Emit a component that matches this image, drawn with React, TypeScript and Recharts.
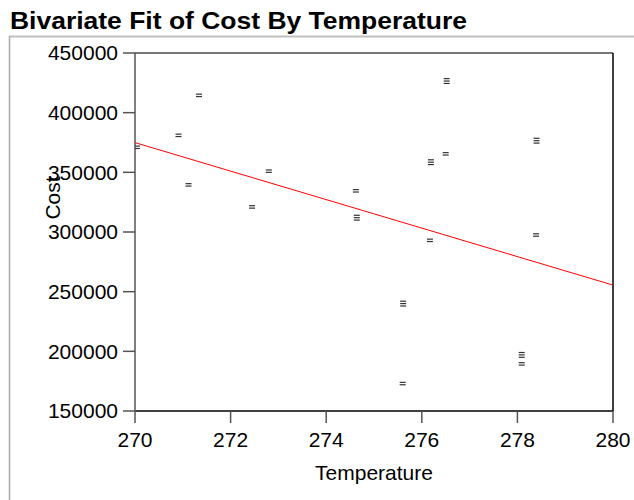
import React from 'react';
import { ScatterChart, Scatter, XAxis, YAxis, ReferenceLine } from 'recharts';

const temperature = [270.04, 270.91, 271.34, 271.12, 272.8, 272.45, 274.62, 274.64, 275.61, 275.6, 276.19, 276.17, 276.52, 276.5, 278.4, 278.39, 278.09, 278.09];
const cost = [371000, 381000, 414500, 339500, 351000, 321000, 334500, 312000, 240000, 173000, 358500, 293000, 426500, 365500, 376500, 297500, 197000, 189500];
// glyph drawn for each observation: 2 = "=", 3 = "≡" (overlapping markers)
const markerGlyph = [2, 2, 2, 2, 2, 2, 2, 3, 3, 2, 3, 2, 3, 2, 3, 2, 3, 2];

// Linear fit end points
const fitTemperature = [270, 280];
const fitCost = [374900, 255500];

const xTicks = [270, 272, 274, 276, 278, 280];
const yTicks = [150000, 200000, 250000, 300000, 350000, 400000, 450000];

const points = temperature.map((t, i) => ({ t, c: cost[i], g: markerGlyph[i] }));
const fitData = fitTemperature.map((t, i) => ({ t, c: fitCost[i] }));

const FONT = '"Liberation Sans", Arial, Helvetica, sans-serif';

const Marker = (props: any) => {
  const { cx, cy, payload } = props;
  if (cx == null || cy == null) return <g />;
  const n = payload.g;
  const gap = 2.4;
  const start = cy - ((n - 1) * gap) / 2;
  return (
    <g>
      {Array.from({ length: n }, (_, i) => (
        <line
          key={i}
          x1={cx - 3}
          x2={cx + 3}
          y1={start + i * gap}
          y2={start + i * gap}
          stroke="#333"
          strokeWidth={1.2}
        />
      ))}
    </g>
  );
};

const CostLabel = (props: any) => {
  const vb = props.viewBox || {};
  const x = (vb.x ?? 35) + 24.5;
  const y = 198;
  return (
    <text
      x={x}
      y={y}
      transform={`rotate(-90, ${x}, ${y})`}
      textAnchor="middle"
      fontSize={21}
      fontFamily={FONT}
      fill="#000"
    >
      Cost
    </text>
  );
};

const TempLabel = (props: any) => {
  const vb = props.viewBox || {};
  const x = (vb.x ?? 135) + (vb.width ?? 478) / 2;
  const y = 480;
  return (
    <text x={x} y={y} textAnchor="middle" fontSize={21} fontFamily={FONT} fill="#000">
      Temperature
    </text>
  );
};

export default function App() {
  return (
    <div style={{ position: 'absolute', left: 0, top: 0, width: 634, height: 500, background: '#fff' }}>
      <svg width={634} height={500} style={{ position: 'absolute', left: 0, top: 0 }}>
        <text
          x={10}
          y={29.3}
          fontSize={23}
          fontWeight="bold"
          fontFamily={FONT}
          fill="#000"
          textLength={457}
          lengthAdjust="spacingAndGlyphs"
        >
          Bivariate Fit of Cost By Temperature
        </text>
        <line x1={9} x2={634} y1={36.5} y2={36.5} stroke="#c0c0c0" strokeWidth={2} />
        <line x1={9.5} x2={9.5} y1={36} y2={500} stroke="#a8a8a8" strokeWidth={1.5} />
      </svg>
      <div style={{ position: 'absolute', left: 0, top: 0 }}>
        <ScatterChart
          width={634}
          height={500}
          margin={{ top: 53, right: 21, bottom: 29, left: 35 }}
        >
          <XAxis
            dataKey="t"
            type="number"
            domain={[270, 280]}
            ticks={xTicks}
            allowDataOverflow
            height={60}
            tickSize={12}
            tickMargin={9}
            axisLine={{ stroke: '#000', strokeWidth: 1.5 }}
            tickLine={{ stroke: '#555', strokeWidth: 1.5 }}
            tick={{ fontSize: 21, fill: '#000', fontFamily: FONT }}
            label={<TempLabel />}
          />
          <YAxis
            dataKey="c"
            type="number"
            domain={[150000, 450000]}
            ticks={yTicks}
            allowDataOverflow
            width={100}
            tickSize={12}
            tickMargin={5}
            axisLine={{ stroke: '#555', strokeWidth: 1.5 }}
            tickLine={{ stroke: '#555', strokeWidth: 1.5 }}
            tick={{ fontSize: 21, fill: '#000', fontFamily: FONT }}
            label={<CostLabel />}
          />
          <ReferenceLine y={450000} stroke="#777" strokeWidth={2} />
          <ReferenceLine x={280} stroke="#000" strokeWidth={1.5} />
          <Scatter
            data={fitData}
            line={{ stroke: '#ff0000', strokeWidth: 1 }}
            shape={() => <g />}
            isAnimationActive={false}
          />
          <Scatter data={points} shape={<Marker />} isAnimationActive={false} />
        </ScatterChart>
      </div>
    </div>
  );
}
